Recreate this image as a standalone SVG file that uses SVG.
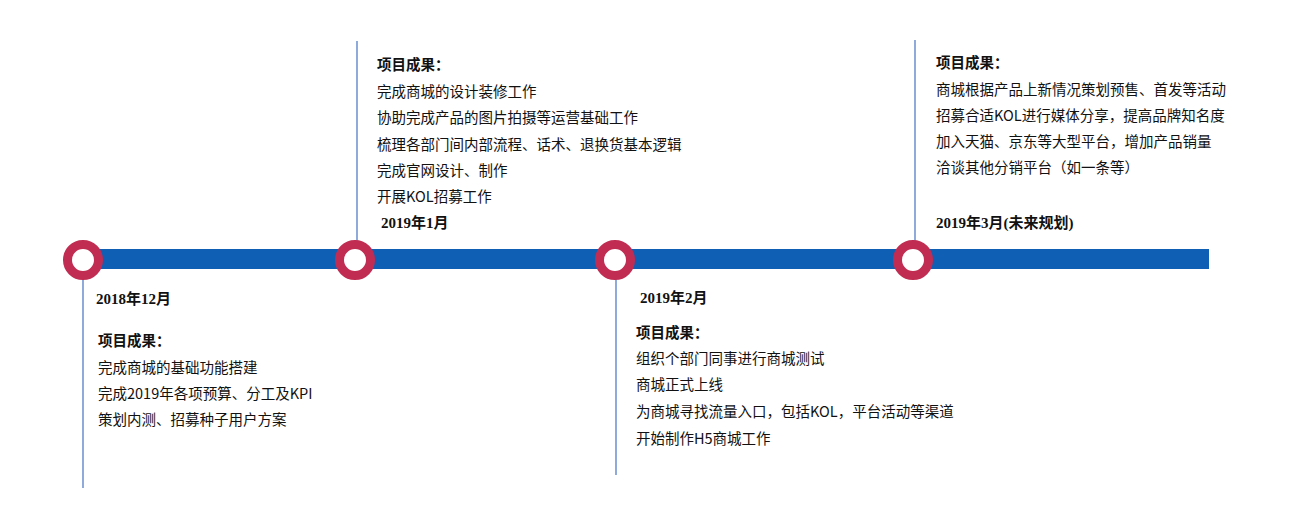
<svg xmlns="http://www.w3.org/2000/svg" width="1292" height="506" viewBox="0 0 1292 506">
<style>
.t{font-family:"Noto Sans CJK SC","Noto Sans",sans-serif;font-size:14.5px;fill:#111}
.h{font-family:"Noto Sans CJK SC",sans-serif;font-size:14.5px;font-weight:bold;fill:#111}
.d{font-family:"Liberation Serif","Noto Sans CJK SC",serif;font-size:15px;font-weight:bold;fill:#111}
.v{stroke:#4472c4;stroke-width:1.2;fill:none}
.ring{fill:#fff;stroke:#c02c52;stroke-width:9}
</style>
<rect width="1292" height="506" fill="#fff"/>
<g id="connectors">
<line class="v" x1="83" y1="260" x2="83" y2="488"/>
<line class="v" x1="357" y1="41" x2="357" y2="260"/>
<line class="v" x1="616" y1="260" x2="616" y2="475"/>
<line class="v" x1="915" y1="40" x2="915" y2="260"/>
<rect x="84" y="249" width="1125" height="20" fill="#0f5fb5"/>
</g>
<g id="node1">
<circle class="ring" cx="83" cy="260" r="15.5"/>
<text class="d" x="96" y="304">2018年12月</text>
<text class="h" x="98" y="346">项目成果：</text>
<text class="t" x="98" y="373">完成商城的基础功能搭建</text>
<text class="t" x="98" y="399">完成2019年各项预算、分工及KPI</text>
<text class="t" x="98" y="425">策划内测、招募种子用户方案</text>
</g>
<g id="node2">
<circle class="ring" cx="355" cy="260" r="15.5"/>
<text class="h" x="377" y="70">项目成果：</text>
<text class="t" x="377" y="97">完成商城的设计装修工作</text>
<text class="t" x="377" y="123">协助完成产品的图片拍摄等运营基础工作</text>
<text class="t" x="377" y="150">梳理各部门间内部流程、话术、退换货基本逻辑</text>
<text class="t" x="377" y="176">完成官网设计、制作</text>
<text class="t" x="377" y="202">开展KOL招募工作</text>
<text class="d" x="381" y="228">2019年1月</text>
</g>
<g id="node3">
<circle class="ring" cx="615" cy="260" r="15.5"/>
<text class="d" x="640" y="303">2019年2月</text>
<text class="h" x="636" y="338">项目成果：</text>
<text class="t" x="636" y="364">组织个部门同事进行商城测试</text>
<text class="t" x="636" y="390">商城正式上线</text>
<text class="t" x="636" y="417">为商城寻找流量入口，包括KOL，平台活动等渠道</text>
<text class="t" x="636" y="444">开始制作H5商城工作</text>
</g>
<g id="node4">
<circle class="ring" cx="913" cy="260" r="15.5"/>
<text class="h" x="936" y="68">项目成果：</text>
<text class="t" x="936" y="95">商城根据产品上新情况策划预售、首发等活动</text>
<text class="t" x="936" y="121">招募合适KOL进行媒体分享，提高品牌知名度</text>
<text class="t" x="936" y="147">加入天猫、京东等大型平台，增加产品销量</text>
<text class="t" x="936" y="173">洽谈其他分销平台（如一条等）</text>
<text class="d" x="936" y="228">2019年3月(未来规划)</text>
</g>
</svg>
